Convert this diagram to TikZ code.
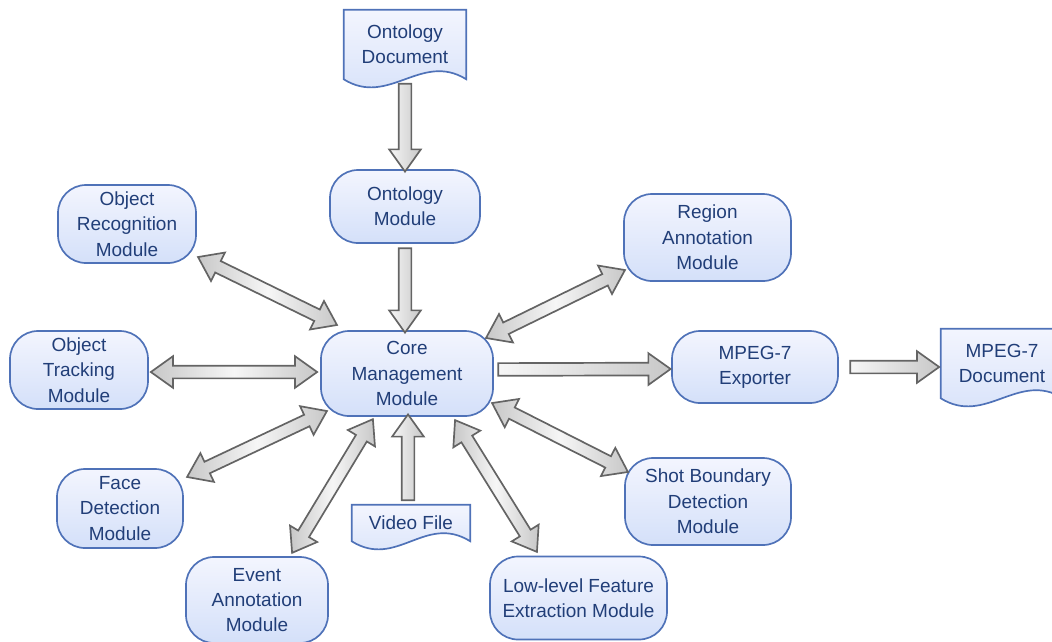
\documentclass[tikz,border=0pt]{standalone}
\usepackage{fontspec}
\setmainfont{Liberation Sans}
\usetikzlibrary{shapes.arrows,calc,backgrounds}

\definecolor{nodeedge}{RGB}{79,114,184}
\definecolor{nodetop}{RGB}{243,245,254}
\definecolor{nodebot}{RGB}{212,224,249}
\definecolor{nodetext}{RGB}{33,62,120}
\definecolor{arrowedge}{RGB}{100,100,100}
\definecolor{arrowlight}{RGB}{246,246,246}
\definecolor{arrowdark}{RGB}{200,200,200}

\tikzset{
  wh/.style 2 args={minimum width=#1*0.025cm, minimum height=#2*0.025cm},
  module/.style={draw=nodeedge, line width=1.2pt, rounded corners=0.7cm,
    top color=nodetop, bottom color=nodebot, text=nodetext, align=center,
    font=\fontsize{13.5}{18}\selectfont, inner sep=0pt},
  doc/.style={text=nodetext, align=center, font=\fontsize{13.5}{18}\selectfont, inner sep=0pt},
  docfill/.style={draw=nodeedge, line width=1.2pt, top color=nodetop, bottom color=nodebot},
  fat/.style={single arrow, draw=arrowedge, line width=1.2pt, left color=arrowlight,
    right color=arrowdark, inner sep=0.1375cm, outer sep=0pt,
    single arrow head extend=0.2375cm, single arrow tip angle=71},
  fatboth/.style={double arrow, draw=arrowedge, line width=1.2pt, left color=arrowdark,
    right color=arrowdark, middle color=arrowlight, inner sep=0.1375cm, outer sep=0pt,
    double arrow head extend=0.2375cm, double arrow tip angle=71}
}

\newcommand{\fatlink}[3]{%
  \path let \p1=(#2), \p2=(#3), \n1={atan2(\y2-\y1,\x2-\x1)}, \n2={veclen(\x2-\x1,\y2-\y1)} in
    node[#1, rotate=\n1, minimum height=\n2] at ($(\p1)!0.5!(\p2)$) {};}
\newcommand{\docshape}[1]{%
  \begin{scope}[on background layer]
    \clip (0,0) rectangle (1052,641);
    \path[docfill] (#1.south west) -- (#1.north west) -- (#1.north east) -- (#1.south east)
      .. controls +(-45,-28) and +(45,28) .. (#1.south west) -- cycle;
  \end{scope}}

\begin{document}
\begin{tikzpicture}[x=0.025cm, y=-0.025cm]
\useasboundingbox (0,0) rectangle (1052,641);
\clip (0,0) rectangle (1052,641);

\node[doc, wh={122}{69}] (od) at (405,44.5) {Ontology\\Document};
\node[doc, wh={122}{69}] (md) at (1002,363.5) {MPEG-7\\Document};
\node[doc, wh={118}{36}] (video) at (411,523) {Video File};
\docshape{od}
\docshape{md}
\docshape{video}

\node[module, wh={150}{73}] (om) at (405,206.5) {Ontology\\Module};
\node[module, wh={138}{78}] (objrec) at (127,224) {Object\\Recognition\\Module};
\node[module, wh={167}{87}] (region) at (707.5,237.5) {Region\\Annotation\\Module};
\node[module, wh={138}{78}] (track) at (79,370) {Object\\Tracking\\Module};
\node[module, wh={172}{85}] (core) at (407,373.5) {Core\\Management\\Module};
\node[module, wh={166}{72}] (exporter) at (755,367) {MPEG-7\\Exporter};
\node[module, wh={126}{79}] (face) at (120,508.5) {Face\\Detection\\Module};
\node[module, wh={166}{87}] (shot) at (708,501.5) {Shot Boundary\\Detection\\Module};
\node[module, wh={142}{86}] (event) at (257,600) {Event\\Annotation\\Module};
\node[module, wh={177}{83}] (low) at (578.5,598) {Low-level Feature\\Extraction Module};

\fatlink{fat}{od.south}{$(om.north)+(0,-2)$}
\fatlink{fat}{om.south}{$(core.north)+(-2,-2)$}
\fatlink{fat}{$(video.north)+(-3,0)$}{$(core.south)+(1,2)$}
\fatlink{fat}{$(core.east)+(0,-4)$}{$(exporter.west)+(-5,2)$}
\fatlink{fat}{$(exporter.east)+(7,0)$}{$(md.west)+(-6,3.5)$}
\fatlink{fatboth}{$(track.east)+(2,2)$}{$(core.west)+(-3,-1.5)$}
\fatlink{fatboth}{$(objrec)+(71,33)$}{$(core)+(-70,-48.5)$}
\fatlink{fatboth}{$(region)+(-82.5,32.5)$}{$(core)+(79,-35.5)$}
\fatlink{fatboth}{$(face)+(67,-31.5)$}{$(core)+(-80,37.5)$}
\fatlink{fatboth}{$(event)+(35,-47)$}{$(core)+(-34,45.5)$}
\fatlink{fatboth}{$(low)+(-41.5,-46)$}{$(core)+(48,46.5)$}
\fatlink{fatboth}{$(shot)+(-80,-29.5)$}{$(core)+(85,29.5)$}
\end{tikzpicture}
\end{document}
